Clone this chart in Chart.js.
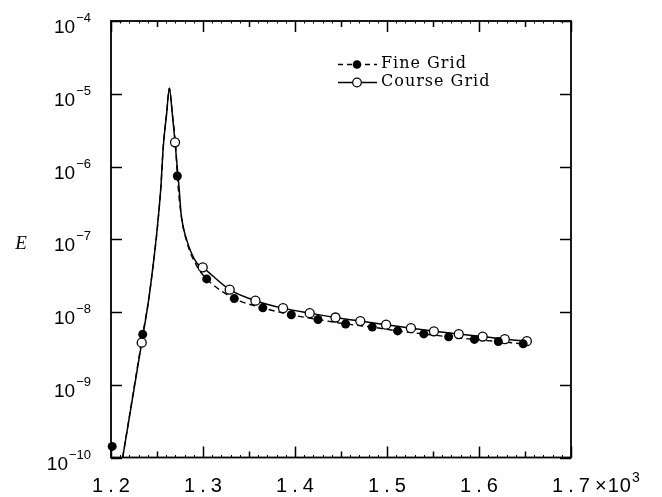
<!DOCTYPE html>
<html><head><meta charset="utf-8">
<script src="https://cdn.jsdelivr.net/npm/chart.js@4/dist/chart.umd.min.js"></script>
<style>html,body{margin:0;padding:0;background:#fff}canvas{display:block}</style>
</head><body>
<canvas id="c" width="662" height="497"></canvas>
<script>
// ---- data ----
const seriesNames = ['Fine Grid', 'Course Grid'];
const fineX = [1.2013, 1.2345, 1.2721, 1.3040, 1.334, 1.365, 1.396, 1.425, 1.455, 1.484, 1.5115, 1.540, 1.567, 1.595, 1.621, 1.648];
const fineY = [1.42e-10, 4.93e-9, 7.4e-7, 2.85e-8, 1.53e-8, 1.14e-8, 9.15e-9, 7.9e-9, 6.85e-9, 6.2e-9, 5.5e-9, 5.0e-9, 4.56e-9, 4.2e-9, 3.93e-9, 3.65e-9];
const courseX = [1.2334, 1.2696, 1.2997, 1.329, 1.357, 1.387, 1.416, 1.444, 1.471, 1.499, 1.526, 1.551, 1.578, 1.604, 1.628, 1.652];
const courseY = [3.79e-9, 2.15e-6, 4.11e-8, 2.03e-8, 1.43e-8, 1.13e-8, 9.65e-9, 8.4e-9, 7.5e-9, 6.7e-9, 6.0e-9, 5.43e-9, 4.97e-9, 4.6e-9, 4.23e-9, 3.97e-9];
// extra points along the drawn curves (between the markers)
const courseCurveX = [1.2127, 1.2424, 1.2540, 1.2568, 1.2605, 1.2634, 1.2666, 1.2742, 1.2761, 1.2823, 1.2932];
const courseCurveY = [1.0e-10, 2.0e-8, 4.75e-7, 1.87e-6, 5.38e-6, 1.19e-5, 5.38e-6, 4.75e-7, 2.3e-7, 9.8e-8, 4.72e-8];
const fineCurveX = [1.2127, 1.2424, 1.2540, 1.2568, 1.2605, 1.2634, 1.2666, 1.2703, 1.2761, 1.2823, 1.2932];
const fineCurveY = [1.0e-10, 2.0e-8, 4.75e-7, 1.87e-6, 5.38e-6, 1.19e-5, 5.38e-6, 1.87e-6, 2.2e-7, 9.3e-8, 4.3e-8];
const xTickValues = [1.2, 1.3, 1.4, 1.5, 1.6, 1.7];
const xTickLabels = ['1.2', '1.3', '1.4', '1.5', '1.6', '1.7'];
const yTickExponents = [-10, -9, -8, -7, -6, -5, -4];
const yAxisTitle = 'E';
const xMultiplierBase = '×10';
const xMultiplierExp = '3';

function pts(xs, ys) { return xs.map((x, i) => ({ x: x, y: ys[i] })); }
function merged(xa, ya, xb, yb) { return pts(xa, ya).concat(pts(xb, yb)).sort((a, b) => a.x - b.x); }

const fineLine = merged(fineCurveX, fineCurveY, fineX.slice(1), fineY.slice(1));
const courseLine = merged(courseCurveX, courseCurveY, courseX, courseY);

const FONT = '"Liberation Sans", Arial, sans-serif';

const deco = {
  id: 'deco',
  afterDatasetsDraw(chart) {
    const ctx = chart.ctx, a = chart.chartArea, xs = chart.scales.x, ys = chart.scales.y;
    ctx.save();
    ctx.strokeStyle = '#000';
    ctx.fillStyle = '#000';
    // frame
    ctx.lineWidth = 1.8;
    ctx.strokeRect(a.left, a.top, a.right - a.left, a.bottom - a.top);
    // x ticks (bottom and top, inward)
    for (let i = 0; i <= 50; i++) {
      const v = 1.2 + i * 0.01;
      const px = Math.round(xs.getPixelForValue(v)) + 0.5;
      const L = (i % 10 === 0) ? 11 : (i % 5 === 0 ? 6 : 2.5);
      ctx.lineWidth = (i % 5 === 0) ? 1.5 : 1;
      ctx.beginPath();
      ctx.moveTo(px, a.bottom); ctx.lineTo(px, a.bottom - L);
      ctx.moveTo(px, a.top); ctx.lineTo(px, a.top + L);
      ctx.stroke();
    }
    // y ticks
    ctx.lineWidth = 1.5;
    yTickExponents.forEach(e => {
      const py = Math.round(ys.getPixelForValue(Math.pow(10, e))) + 0.5;
      ctx.beginPath();
      ctx.moveTo(a.left, py); ctx.lineTo(a.left + 11, py);
      ctx.moveTo(a.right, py); ctx.lineTo(a.right - 11, py);
      ctx.stroke();
    });
    // y tick labels 10^e
    yTickExponents.forEach(e => {
      const py = ys.getPixelForValue(Math.pow(10, e));
      const sup = '\u2212' + Math.abs(e);
      ctx.font = '13px ' + FONT;
      const ws = ctx.measureText(sup).width;
      ctx.font = '19px ' + FONT;
      const wb = ctx.measureText('10').width;
      const right = 91;
      ctx.textAlign = 'left';
      ctx.textBaseline = 'alphabetic';
      ctx.fillText('10', right - ws - wb - 1, py + 12);
      ctx.font = '13px ' + FONT;
      ctx.fillText(sup, right - ws, py + 1);
    });
    // x tick labels
    ctx.font = '20px ' + FONT;
    ctx.textBaseline = 'alphabetic';
    ctx.textAlign = 'left';
    const sp = 5;
    ctx.letterSpacing = sp + 'px';
    xTickValues.forEach((v, i) => {
      const px = xs.getPixelForValue(v);
      const w = ctx.measureText(xTickLabels[i]).width - sp;
      ctx.fillText(xTickLabels[i], px - w / 2, 492);
    });
    // multiplier
    ctx.letterSpacing = '1px';
    ctx.font = '20px ' + FONT;
    ctx.fillText(xMultiplierBase, 595, 492);
    const wm = ctx.measureText(xMultiplierBase).width;
    ctx.letterSpacing = '0px';
    ctx.font = '14px ' + FONT;
    ctx.fillText(xMultiplierExp, 595 + wm, 482);
    // y axis title
    ctx.font = 'italic 19px "Liberation Serif", "Times New Roman", serif';
    ctx.textAlign = 'center';
    ctx.fillText(yAxisTitle, 21, 249);
    // legend
    ctx.font = '16px "DejaVu Serif", "Liberation Serif", serif';
    ctx.letterSpacing = '1px';
    ctx.textAlign = 'left';
    ctx.fillText(seriesNames[0], 381, 68);
    ctx.fillText(seriesNames[1], 381, 86);
    ctx.letterSpacing = '0px';
    ctx.lineWidth = 1.4;
    ctx.setLineDash([5, 4]);
    ctx.beginPath(); ctx.moveTo(338, 64.5); ctx.lineTo(377, 64.5); ctx.stroke();
    ctx.setLineDash([]);
    ctx.beginPath(); ctx.arc(357, 64.5, 4.3, 0, Math.PI * 2); ctx.fill();
    ctx.beginPath(); ctx.moveTo(338, 82.5); ctx.lineTo(377, 82.5); ctx.stroke();
    ctx.fillStyle = '#fff'; ctx.lineWidth = 1.2;
    ctx.beginPath(); ctx.arc(357, 82.5, 4.3, 0, Math.PI * 2); ctx.fill(); ctx.stroke();
    ctx.restore();
  }
};

new Chart(document.getElementById('c'), {
  type: 'scatter',
  data: {
    datasets: [
      { label: seriesNames[0] + ' markers', data: pts(fineX, fineY), showLine: false, pointRadius: 4.5, pointBackgroundColor: '#000', pointBorderColor: '#000', pointBorderWidth: 0, order: 0 },
      { label: seriesNames[1] + ' markers', data: pts(courseX, courseY), showLine: false, pointRadius: 4.5, pointBackgroundColor: '#fff', pointBorderColor: '#000', pointBorderWidth: 1.3, order: 0 },
      { label: seriesNames[0], data: fineLine, showLine: true, pointRadius: 0, borderColor: '#000', borderWidth: 1.4, borderDash: [6, 4], cubicInterpolationMode: 'monotone', fill: false, order: 2 },
      { label: seriesNames[1], data: courseLine, showLine: true, pointRadius: 0, borderColor: '#000', borderWidth: 1.5, cubicInterpolationMode: 'monotone', fill: false, order: 1 }
    ]
  },
  options: {
    responsive: false,
    devicePixelRatio: 1,
    animation: false,
    clip: { left: 6, right: 6, top: 0, bottom: 0 },
    layout: { padding: { left: 111, right: 91, top: 21, bottom: 39.5 } },
    plugins: { legend: { display: false }, tooltip: { enabled: false } },
    scales: {
      x: { type: 'linear', min: 1.2, max: 1.7, display: false },
      y: { type: 'logarithmic', min: 1e-10, max: 1e-4, display: false }
    }
  },
  plugins: [deco]
});
</script>
</body></html>
